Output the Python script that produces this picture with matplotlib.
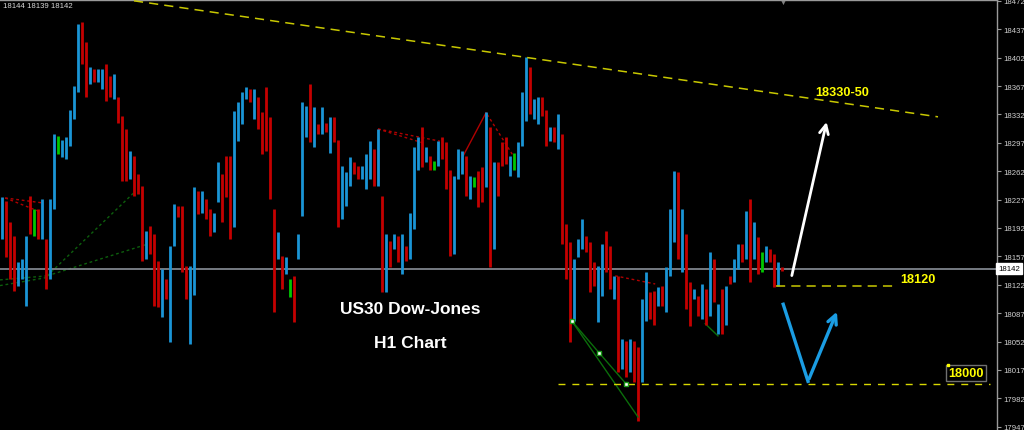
import matplotlib.pyplot as plt
from matplotlib.transforms import blended_transform_factory

plt.rcParams['font.family'] = ['Liberation Sans', 'DejaVu Sans']

# US30 H1 bars: high, low and bar colour
# (u = up/blue, d = down/red, g = green)
highs = [18230, 18225, 18199, 18182, 18150, 18154, 18182, 18231, 18215, 18215,
         18228, 18178, 18228, 18308, 18305, 18301, 18304, 18338, 18367, 18443,
         18446, 18421, 18390, 18388, 18388, 18388, 18394, 18379, 18382, 18354,
         18330, 18314, 18287, 18281, 18258, 18244, 18188, 18194, 18184, 18151,
         18141, 18129, 18170, 18221, 18219, 18219, 18145, 18145, 18242, 18237,
         18237, 18228, 18215, 18211, 18273, 18258, 18281, 18281, 18336, 18347,
         18359, 18366, 18363, 18363, 18354, 18335, 18366, 18329, 18215, 18187,
         18157, 18156, 18129, 18133, 18184, 18347, 18342, 18369, 18341, 18320,
         18341, 18322, 18329, 18329, 18301, 18268, 18261, 18279, 18273, 18268,
         18268, 18283, 18299, 18289, 18314, 18231, 18184, 18176, 18184, 18182,
         18184, 18170, 18211, 18292, 18304, 18316, 18292, 18281, 18274, 18299,
         18304, 18298, 18264, 18256, 18289, 18287, 18281, 18256, 18255, 18262,
         18267, 18335, 18317, 18273, 18273, 18298, 18304, 18281, 18285, 18298,
         18359, 18403, 18391, 18351, 18354, 18353, 18338, 18317, 18317, 18332,
         18308, 18197, 18175, 18154, 18178, 18203, 18182, 18175, 18150, 18145,
         18172, 18188, 18170, 18133, 18133, 18055, 18053, 18055, 18053, 18045,
         18104, 18138, 18113, 18114, 18119, 18120, 18144, 18215, 18262, 18261,
         18215, 18184, 18126, 18117, 18108, 18123, 18117, 18163, 18154, 18098,
         18117, 18120, 18133, 18154, 18172, 18172, 18213, 18228, 18199, 18181,
         18162, 18170, 18166, 18160, 18150, 18144]
lows = [18178, 18156, 18129, 18114, 18120, 18129, 18096, 18184, 18182, 18178,
        18178, 18117, 18129, 18215, 18283, 18279, 18277, 18293, 18326, 18359,
        18394, 18353, 18369, 18372, 18372, 18363, 18348, 18354, 18351, 18322,
        18250, 18250, 18252, 18231, 18234, 18151, 18154, 18160, 18096, 18094,
        18082, 18104, 18051, 18170, 18205, 18138, 18104, 18049, 18110, 18209,
        18211, 18203, 18182, 18187, 18224, 18199, 18230, 18178, 18193, 18299,
        18320, 18351, 18347, 18326, 18314, 18283, 18287, 18228, 18088, 18154,
        18117, 18135, 18107, 18076, 18154, 18207, 18304, 18298, 18292, 18308,
        18308, 18310, 18285, 18298, 18193, 18203, 18219, 18244, 18258, 18252,
        18252, 18240, 18252, 18244, 18244, 18113, 18113, 18144, 18166, 18150,
        18135, 18151, 18154, 18191, 18264, 18267, 18273, 18264, 18264, 18268,
        18277, 18240, 18157, 18160, 18252, 18258, 18231, 18228, 18242, 18218,
        18224, 18242, 18144, 18166, 18231, 18268, 18271, 18256, 18264, 18255,
        18293, 18324, 18332, 18326, 18320, 18330, 18293, 18299, 18298, 18289,
        18172, 18129, 18051, 18077, 18156, 18166, 18162, 18113, 18120, 18076,
        18108, 18138, 18117, 18104, 18014, 18018, 18008, 18014, 18002, 17954,
        18002, 18077, 18080, 18073, 18096, 18096, 18088, 18133, 18175, 18154,
        18138, 18092, 18071, 18104, 18083, 18080, 18073, 18083, 18101, 18061,
        18061, 18073, 18123, 18126, 18141, 18150, 18154, 18125, 18154, 18135,
        18138, 18150, 18150, 18119, 18120, 18139]
dirs = """
u d d d u u u d g d
u d u u g u u u u u
d d u d u u d d u d
d d u d d d u d d d
u d u u d d d u u d
u d d u u d d d u u
u u d u d d d d d u
d u g d u u u d u d
u d u d d u u u d d
u u u d u d u d u d
u d u u u d u d g u
d d d u u u d u g d
d u d u d d d u g u
u u d u u d d u d u
d d d u u u d d d u
u d d u d u d u d d
u u d d u d u u u d
u d d u d u d u d u
d u d u u d u d u d
g u d d u d
""".split()

quote = [18144, 18139, 18142]
yticks = list(range(17947, 18473, 35))

# analysis drawn on the chart (bar index, price)
trend_x = [33, 234]
trend_y = [18472, 18329]
target_label = "18330-50"
up_arrow_x = [197.3, 206.3]
up_arrow_y = [18130, 18326]
v_x = [195.3, 201.5, 209]
v_y = [18098, 18003, 18092]
level_1 = 18120
level_1_x = [193.5, 224]
level_2 = 18000
level_2_x = [139, 247]
wedge_x = [142.5, 149.3, 156]
wedge_y = [18077, 18038, 18000]
wedge_low = [159, 17959]

fig = plt.figure(figsize=(10.24, 4.31), dpi=100, facecolor='black')
ax = fig.add_axes([0, 0, 997 / 1024, 430 / 431], facecolor='black')
ax.set_xlim(-0.5, -0.5 + 997 / 4)
ax.set_ylim(17943, 18473)

cols = {'u': '#1a95d6', 'd': '#c40000', 'g': '#00c800'}
idx = list(range(len(highs)))
bar_cols = [cols[c] for c in dirs]
ax.vlines(idx, lows, highs, colors=bar_cols, lw=2.0, zorder=3)

# helper lines left by the indicators
dkgreen = '#0d5f0d'
ax.plot([-0.5, 11.3], [18128, 18133], ls=(0, (2, 2)), color=dkgreen, lw=1)
ax.plot([-0.5, 11.3], [18121, 18131], ls=(0, (2, 2)), color=dkgreen, lw=1)
ax.plot([11.3, 33.3], [18133, 18237], ls=(0, (2, 2)), color=dkgreen, lw=1)
ax.plot([11.3, 36.3], [18133, 18172], ls=(0, (2, 2)), color=dkgreen, lw=1)
dkred = '#b00000'
ax.plot([0.8, 10], [18229, 18223], ls=(0, (2, 2)), color=dkred, lw=1)
ax.plot([0.8, 9.5], [18229, 18212], ls=(0, (2, 2)), color=dkred, lw=1)
ax.plot([94, 109.5], [18314, 18299], ls=(0, (2, 2)), color=dkred, lw=1)
ax.plot([94, 105.8], [18314, 18296], ls=(0, (2, 2)), color=dkred, lw=1)
ax.plot([115.3, 121], [18281, 18334], color=dkred, lw=1)
ax.plot([121.3, 127.8], [18332, 18281], ls=(0, (2, 2)), color=dkred, lw=1)
ax.plot([153.3, 163.3], [18133, 18123], ls=(0, (2, 2)), color=dkred, lw=1)
ax.plot(wedge_x, wedge_y, color='#0b6e0b', lw=1, zorder=4)
ax.plot([wedge_x[0], wedge_low[0]], [wedge_y[0], wedge_low[1]], color='#0b6e0b', lw=1, zorder=4)
ax.plot(wedge_x, wedge_y, 's', ms=3.5, mfc='white', mec='#1a9a1a', mew=1, zorder=5)
ax.plot([175.8, 179], [18074, 18059], color='#0b6e0b', lw=1)

# current price line
ax.axhline(quote[2], color='#8a8f98', lw=1.2, zorder=2)

# resistance trend line and target
ax.plot(trend_x, trend_y, ls=(0, (6, 4)), color='#c8c800', lw=1.1, zorder=4)
ax.text(203.3, 18359, target_label, color='#ffff00', fontsize=9.2, fontweight='bold',
        ha='left', va='center', zorder=6)
ax.annotate('', xy=(up_arrow_x[1], up_arrow_y[1]), xytext=(up_arrow_x[0], up_arrow_y[0]),
            arrowprops=dict(arrowstyle='->', color='white', lw=2, mutation_scale=16), zorder=6)

# support levels
ax.plot(level_1_x, [level_1, level_1], ls=(0, (6, 4)), color='#c8c800', lw=1.1, zorder=4)
ax.text(224.5, 18129, str(level_1), color='#ffff00', fontsize=9.2, fontweight='bold',
        ha='left', va='center', zorder=6)
ax.plot(level_2_x, [level_2, level_2], ls=(0, (5, 5)), color='#d8d800', lw=1, zorder=4)
ax.text(241, 18013, str(level_2), color='#ffff00', fontsize=9.2, fontweight='bold',
        ha='center', va='center', zorder=6,
        bbox=dict(boxstyle='square,pad=0.15', fc='black', ec='#707070', lw=1))
ax.plot([236.5], [18023], 's', ms=2, color='#ffff00', zorder=6)

ax.plot(v_x[:2], v_y[:2], color='#1b9de3', lw=2.4, zorder=6)
ax.annotate('', xy=(v_x[2], v_y[2]), xytext=(v_x[1], v_y[1]),
            arrowprops=dict(arrowstyle='->', color='#1b9de3', lw=2.4, mutation_scale=16), zorder=6)

ax.text(102, 18093, 'US30 Dow-Jones', color='white', fontsize=12.5, fontweight='bold',
        ha='center', va='center', zorder=6)
ax.text(102, 18051, 'H1 Chart', color='white', fontsize=12.5, fontweight='bold',
        ha='center', va='center', zorder=6)

# header quote
fig.text(3 / 1024, 1 - 7 / 431, ' '.join(str(q) for q in quote), color='#d8d8d8',
         fontsize=5.6, ha='left', va='center')
# shift marker
fig.text(783 / 1024, 1 - 3 / 431, '\u25bc', color='#808080', fontsize=5, ha='center', va='center')

# price scale on the right
for s in ['left', 'bottom']:
    ax.spines[s].set_visible(False)
for s in ['top', 'right']:
    ax.spines[s].set_color('#9a9a9a')
    ax.spines[s].set_linewidth(1)
ax.set_xticks([])
ax.yaxis.tick_right()
ax.set_yticks(yticks)
ax.tick_params(axis='y', colors='#9a9a9a', labelcolor='#d0d0d0', length=3, width=0.8,
               labelsize=5.6, pad=1.5)
trans = blended_transform_factory(ax.transAxes, ax.transData)
ax.text(1.001, quote[2], str(quote[2]), transform=trans, color='black', fontsize=5.6,
        ha='left', va='center', zorder=7, clip_on=False,
        bbox=dict(boxstyle='square,pad=0.25', fc='white', ec='white'))

fig.savefig('out.png', dpi=100, facecolor='black')
